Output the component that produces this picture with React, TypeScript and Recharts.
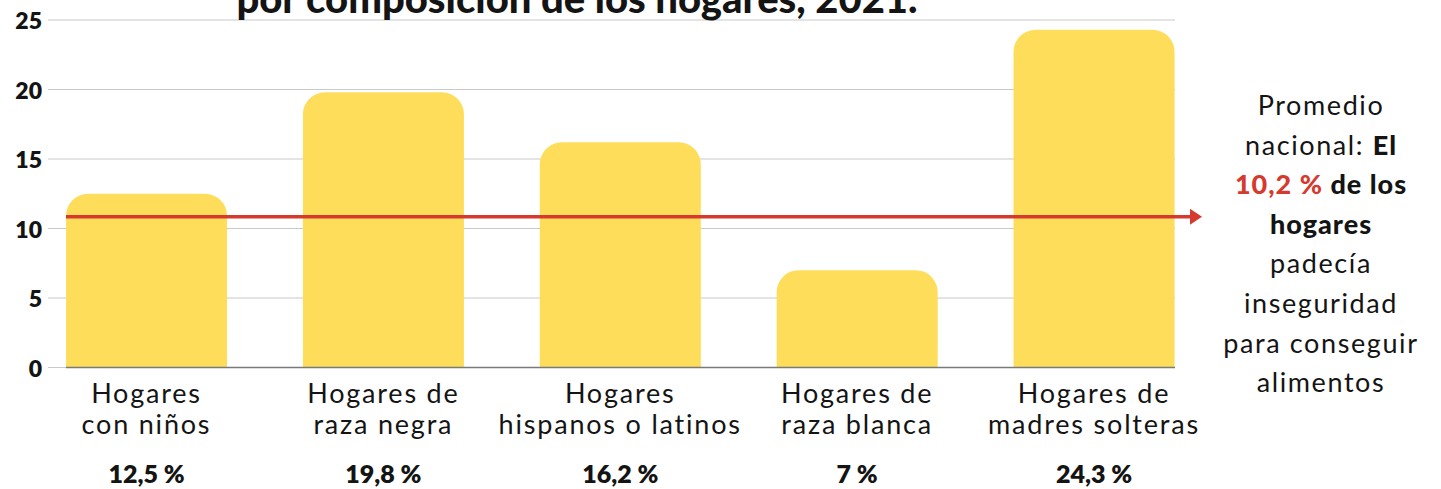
import { ComposedChart, Bar, XAxis, YAxis, CartesianGrid, ReferenceLine } from 'recharts';

const categoryLines = [
    ['Hogares', 'con niños'],
    ['Hogares de', 'raza negra'],
    ['Hogares', 'hispanos o latinos'],
    ['Hogares de', 'raza blanca'],
    ['Hogares de', 'madres solteras'],
];
const values = [12.5, 19.8, 16.2, 7, 24.3];
const valueLabels = ['12,5 %', '19,8 %', '16,2 %', '7 %', '24,3 %'];
const yTicks = [0, 5, 10, 15, 20, 25];
// red line as drawn in the picture (sits a bit above 10)
const averageLineValue = 10.85;

const YELLOW = '#FEDD5B';
const RED = '#D63A2F';
const INK = '#141414';
const FONT = 'Lato, "Open Sans", sans-serif';

const data = values.map((v, i) => ({ idx: i, value: v }));

function CategoryTick({ x, y, payload }: any) {
    const i = payload.value as number;
    const lines = categoryLines[i];
    if (!lines) return null;
    return (
        <g>
            <text x={x} y={y + 35} textAnchor="middle" fontFamily={FONT} fontSize={27} letterSpacing={1.8} fill={INK}>
                {lines[0]}
            </text>
            <text x={x} y={y + 66} textAnchor="middle" fontFamily={FONT} fontSize={27} letterSpacing={1.8} fill={INK}>
                {lines[1]}
            </text>
            <text x={x} y={y + 115} textAnchor="middle" fontFamily={FONT} fontSize={25} fontWeight={800} fill={INK}>
                {valueLabels[i]}
            </text>
        </g>
    );
}

function ValueTick({ x, y, payload }: any) {
    return (
        <text x={x} y={y + 9} textAnchor="end" fontFamily={FONT} fontSize={23} fontWeight={800} fill={INK}>
            {payload.value}
        </text>
    );
}

function ArrowLine(props: any) {
    const { x1, y1, x2, y2 } = props;
    return (
        <g>
            <line x1={x1} y1={y1} x2={x2 - 6} y2={y2} stroke={RED} strokeWidth={3.5} />
            <path d={`M${x2 - 12},${y2 - 8} L${x2},${y2} L${x2 - 12},${y2 + 8} Z`} fill={RED} />
        </g>
    );
}

const sideLines: { text: string; bold?: boolean; red?: boolean }[][] = [
    [{ text: 'Promedio' }],
    [{ text: 'nacional: ' }, { text: 'El', bold: true }],
    [{ text: '10,2 %', bold: true, red: true }, { text: ' de los', bold: true }],
    [{ text: 'hogares', bold: true }],
    [{ text: 'padecía' }],
    [{ text: 'inseguridad' }],
    [{ text: 'para conseguir' }],
    [{ text: 'alimentos' }],
];

export default function App() {
    return (
        <div style={{ position: 'absolute', left: 0, top: 0, width: 1441, height: 489, background: '#fff' }}>
            <ComposedChart
                width={1441}
                height={489}
                data={data}
                margin={{ top: 20, right: 266, bottom: 91.5, left: 0 }}
            >
                <CartesianGrid vertical={false} stroke="#C9C9C9" strokeWidth={1.2} />
                <XAxis
                    dataKey="idx"
                    type="number"
                    domain={[-0.4158, 4.342]}
                    ticks={[0, 1, 2, 3, 4]}
                    allowDataOverflow
                    height={30}
                    axisLine={false}
                    tickLine={false}
                    tickSize={0}
                    tickMargin={0}
                    interval={0}
                    tick={<CategoryTick />}
                />
                <YAxis
                    domain={[0, 25]}
                    ticks={yTicks}
                    width={48}
                    axisLine={false}
                    tickLine={false}
                    tickSize={0}
                    tickMargin={6}
                    tick={<ValueTick />}
                />
                <Bar dataKey="value" fill={YELLOW} barSize={161} radius={[22, 22, 0, 0]} isAnimationActive={false} />
                <ReferenceLine
                    segment={[{ x: -0.34, y: 0 }, { x: 4.342, y: 0 }]}
                    stroke="#7A7A7A"
                    strokeWidth={1.3}
                    ifOverflow="visible"
                />
                <ReferenceLine
                    segment={[{ x: -0.34, y: averageLineValue }, { x: 4.456, y: averageLineValue }]}
                    ifOverflow="visible"
                    shape={<ArrowLine />}
                />
            </ComposedChart>
            <svg
                width={1441}
                height={489}
                style={{ position: 'absolute', left: 0, top: 0, pointerEvents: 'none' }}
            >
                <text x={577} y={13} textAnchor="middle" fontFamily={FONT} fontSize={40} fontWeight={900} fill={INK}>
                    por composición de los hogares, 2021.
                </text>
                {sideLines.map((parts, li) => (
                    <text
                        key={li}
                        x={1321}
                        y={115 + li * 39.6}
                        textAnchor="middle"
                        fontFamily={FONT}
                        fontSize={27}
                        letterSpacing={1.6}
                        fill={INK}
                    >
                        {parts.map((p, pi) => (
                            <tspan
                                key={pi}
                                fontWeight={p.bold ? 900 : 400}
                                fill={p.red ? RED : INK}
                                letterSpacing={p.bold ? 1 : 1.6}
                            >
                                {p.text}
                            </tspan>
                        ))}
                    </text>
                ))}
            </svg>
        </div>
    );
}
